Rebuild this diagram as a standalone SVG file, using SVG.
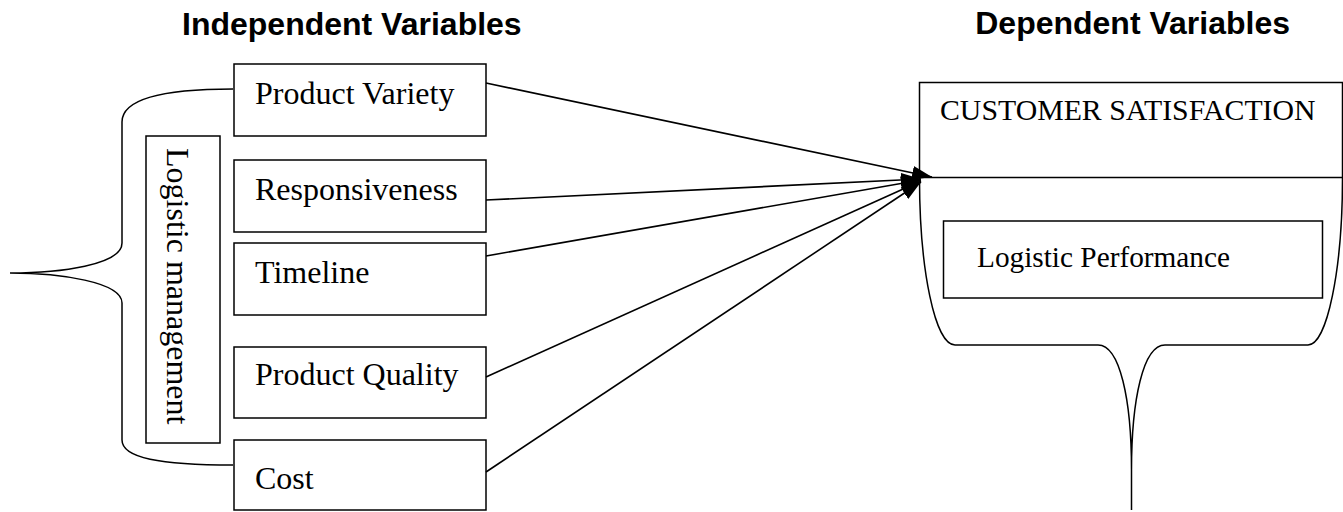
<svg xmlns="http://www.w3.org/2000/svg" width="1343" height="512" viewBox="0 0 1343 512">
<style>
.box{fill:#fff;stroke:#000;stroke-width:1.5}
.ln{fill:none;stroke:#000;stroke-width:1.5}
.t{font-family:"Liberation Serif","Times New Roman",serif;font-size:32px;fill:#000}
.t2{font-family:"Liberation Serif","Times New Roman",serif;font-size:29.3px;fill:#000}
.h{font-family:"Liberation Sans",Arial,sans-serif;font-size:32px;font-weight:bold;fill:#000}
.con{fill:none;stroke:#000;stroke-width:1.6}
</style>
<defs>
<marker id="ah" markerUnits="userSpaceOnUse" markerWidth="22" markerHeight="16" refX="20" refY="7" orient="auto">
<path d="M0,0 L20,7 L0,14 z" fill="#000"/>
</marker>
</defs>
<rect width="1343" height="512" fill="#fff"/>
<g id="headings">
<text class="h" x="182" y="35">Independent Variables</text>
<text class="h" x="1290" y="34" text-anchor="end">Dependent Variables</text>
</g>
<g id="brace">
<path class="ln" d="M233,89 C160,89 122,100 122,122 L122,243 C122,265 60,273 10,273 C60,273 122,282 122,303 L122,440 C122,458 160,465 233,465"/>
</g>
<g id="logistic-management">
<rect class="box" x="146" y="136" width="74" height="307"/>
<text class="t" transform="translate(167,148) rotate(90)">Logistic management</text>
</g>
<g id="product-variety">
<rect class="box" x="234" y="64" width="252" height="72"/>
<text class="t" x="255" y="104">Product Variety</text>
</g>
<g id="responsiveness">
<rect class="box" x="234" y="160" width="252" height="72"/>
<text class="t" x="255" y="200">Responsiveness</text>
</g>
<g id="timeline">
<rect class="box" x="234" y="243" width="252" height="72"/>
<text class="t" x="255" y="283">Timeline</text>
</g>
<g id="product-quality">
<rect class="box" x="234" y="347" width="252" height="71"/>
<text class="t" x="255" y="385">Product Quality</text>
</g>
<g id="cost">
<rect class="box" x="234" y="440" width="252" height="70"/>
<text class="t" x="255" y="489">Cost</text>
</g>
<g id="customer-satisfaction">
<path class="ln" d="M919.5,177.5 C919.5,270 935,345 955,345 L1098,345 C1120,345 1131.5,400 1131.5,470 L1131.5,510 M1131.5,470 C1131.5,400 1143,345 1165,345 L1308,345 C1327,345 1342.5,270 1342.5,177.5"/>
<rect class="box" x="919.5" y="82.5" width="423" height="95" fill="none"/>
<text class="t2" x="940" y="120" style="font-size:29.8px">CUSTOMER SATISFACTION</text>
</g>
<g id="logistic-performance">
<rect class="box" x="943.5" y="221" width="379" height="77"/>
<text class="t2" x="977" y="267">Logistic Performance</text>
</g>
<g id="connectors">
<line class="con" x1="486" y1="83" x2="932" y2="177" marker-end="url(#ah)"/>
<line class="con" x1="486" y1="200" x2="921" y2="179" marker-end="url(#ah)"/>
<line class="con" x1="486" y1="256" x2="921" y2="180" marker-end="url(#ah)"/>
<line class="con" x1="486" y1="377" x2="921" y2="181" marker-end="url(#ah)"/>
<line class="con" x1="486" y1="472" x2="921" y2="182" marker-end="url(#ah)"/>
</g>
</svg>
